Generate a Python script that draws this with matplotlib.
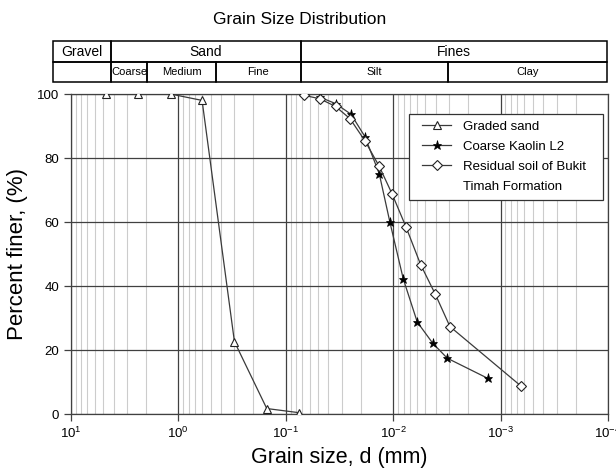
import matplotlib
matplotlib.use("Agg")
import matplotlib.pyplot as plt
from matplotlib.patches import Rectangle
from matplotlib.lines import Line2D
from matplotlib.legend_handler import HandlerLine2D

plt.rcParams["font.family"] = ["Liberation Sans", "DejaVu Sans"]

# grain size (mm) and percent finer
sand_d = [4.75, 2.36, 1.18, 0.6, 0.3, 0.15, 0.075]
sand_p = [100, 100, 100, 98, 22.7, 1.8, 0.5]

kaolin_d = [0.048, 0.0343, 0.0247, 0.0183, 0.01346, 0.0107, 0.00805,
            0.00596, 0.00428, 0.00313, 0.00131]
kaolin_p = [99, 97, 93.7, 86.7, 75.1, 59.9, 42.3, 28.8, 22.2, 17.5, 11.2]

resid_d = [0.0676, 0.048, 0.0343, 0.0252, 0.0183, 0.01346, 0.01019,
           0.00759, 0.00554, 0.00405, 0.00296, 0.00065]
resid_p = [99.6, 98.5, 96.1, 92.3, 85.4, 77.4, 68.7, 58.5, 46.7, 37.5,
           27.4, 8.9]

top_row = ["Gravel", "Sand", "Fines"]
bottom_row = ["", "Coarse", "Medium", "Fine", "Silt", "Clay"]

W, H = 616, 469
fig = plt.figure(figsize=(W / 100, H / 100), dpi=100)

# axes box in pixels
ax_l, ax_r, ax_t, ax_b = 70.8, 608, 94, 414.3
ax = fig.add_axes([ax_l / W, 1 - ax_b / H, (ax_r - ax_l) / W, (ax_b - ax_t) / H])

line_c = "#3a3a3a"
ax.plot(sand_d, sand_p, color=line_c, lw=0.9, marker="^", ms=5.8,
        mfc="white", mec="#222222", mew=0.8, label="Graded sand", zorder=3)
ax.plot(kaolin_d, kaolin_p, color=line_c, lw=0.9, marker="*", ms=6.5,
        mfc="black", mec="black", mew=0.5, label="Coarse Kaolin L2", zorder=3)
ax.plot(resid_d, resid_p, color=line_c, lw=0.9, marker="D", ms=4.6,
        mfc="white", mec="#222222", mew=0.8,
        label="Residual soil of Bukit   ", zorder=4)

ax.set_xscale("log")
ax.set_xlim(10, 1e-4)
ax.set_ylim(0, 100)
ax.set_yticks([0, 20, 40, 60, 80, 100])

ax.grid(which="major", color="#404040", lw=0.9)
ax.grid(which="minor", axis="x", color="#cccccc", lw=0.8)
ax.set_axisbelow(True)
ax.tick_params(which="major", direction="out", length=5, width=0.9,
               color="#404040", labelsize=9.5)
ax.tick_params(which="minor", length=0)
for s in ax.spines.values():
    s.set_color("#404040")
    s.set_linewidth(0.9)

ax.set_xlabel("Grain size, d (mm)", fontsize=15.5, labelpad=4)
ax.set_ylabel("Percent finer, (%)", fontsize=16, labelpad=6)

handles, labels = ax.get_legend_handles_labels()
handles.append(Line2D([], [], linestyle="none"))
labels.append("Timah Formation")
leg = ax.legend(handles, labels, loc="upper right", bbox_to_anchor=(0.991, 0.938),
                borderaxespad=0, fontsize=9.5, fancybox=False, framealpha=1,
                edgecolor="#333333", handlelength=2.65, handletextpad=0.9,
                labelspacing=0.6, borderpad=0.5,
                handler_map={Line2D: HandlerLine2D(xpad=0.5)})
leg.get_frame().set_linewidth(0.9)


def box(x0, x1, y0, y1, label, size):
    fig.add_artist(Rectangle((x0 / W, 1 - y1 / H), (x1 - x0) / W, (y1 - y0) / H,
                             transform=fig.transFigure, fill=False,
                             ec="black", lw=1.1))
    if label:
        fig.text((x0 + x1) / 2 / W, 1 - (y0 + y1) / 2 / H, label,
                 ha="center", va="center", fontsize=size)


top_edges = [53.3, 110.7, 301, 606.7]
bottom_edges = [53.3, 110.7, 147.3, 215.7, 300.5, 448, 606.7]
for i, lab in enumerate(top_row):
    box(top_edges[i], top_edges[i + 1], 41.5, 61.7, lab, 10)
for i, lab in enumerate(bottom_row):
    box(bottom_edges[i], bottom_edges[i + 1], 61.7, 82, lab, 8)

fig.text(300 / W, 1 - 20 / H, "Grain Size Distribution", ha="center",
         va="center", fontsize=12.5)

fig.savefig("out.png", dpi=100)
